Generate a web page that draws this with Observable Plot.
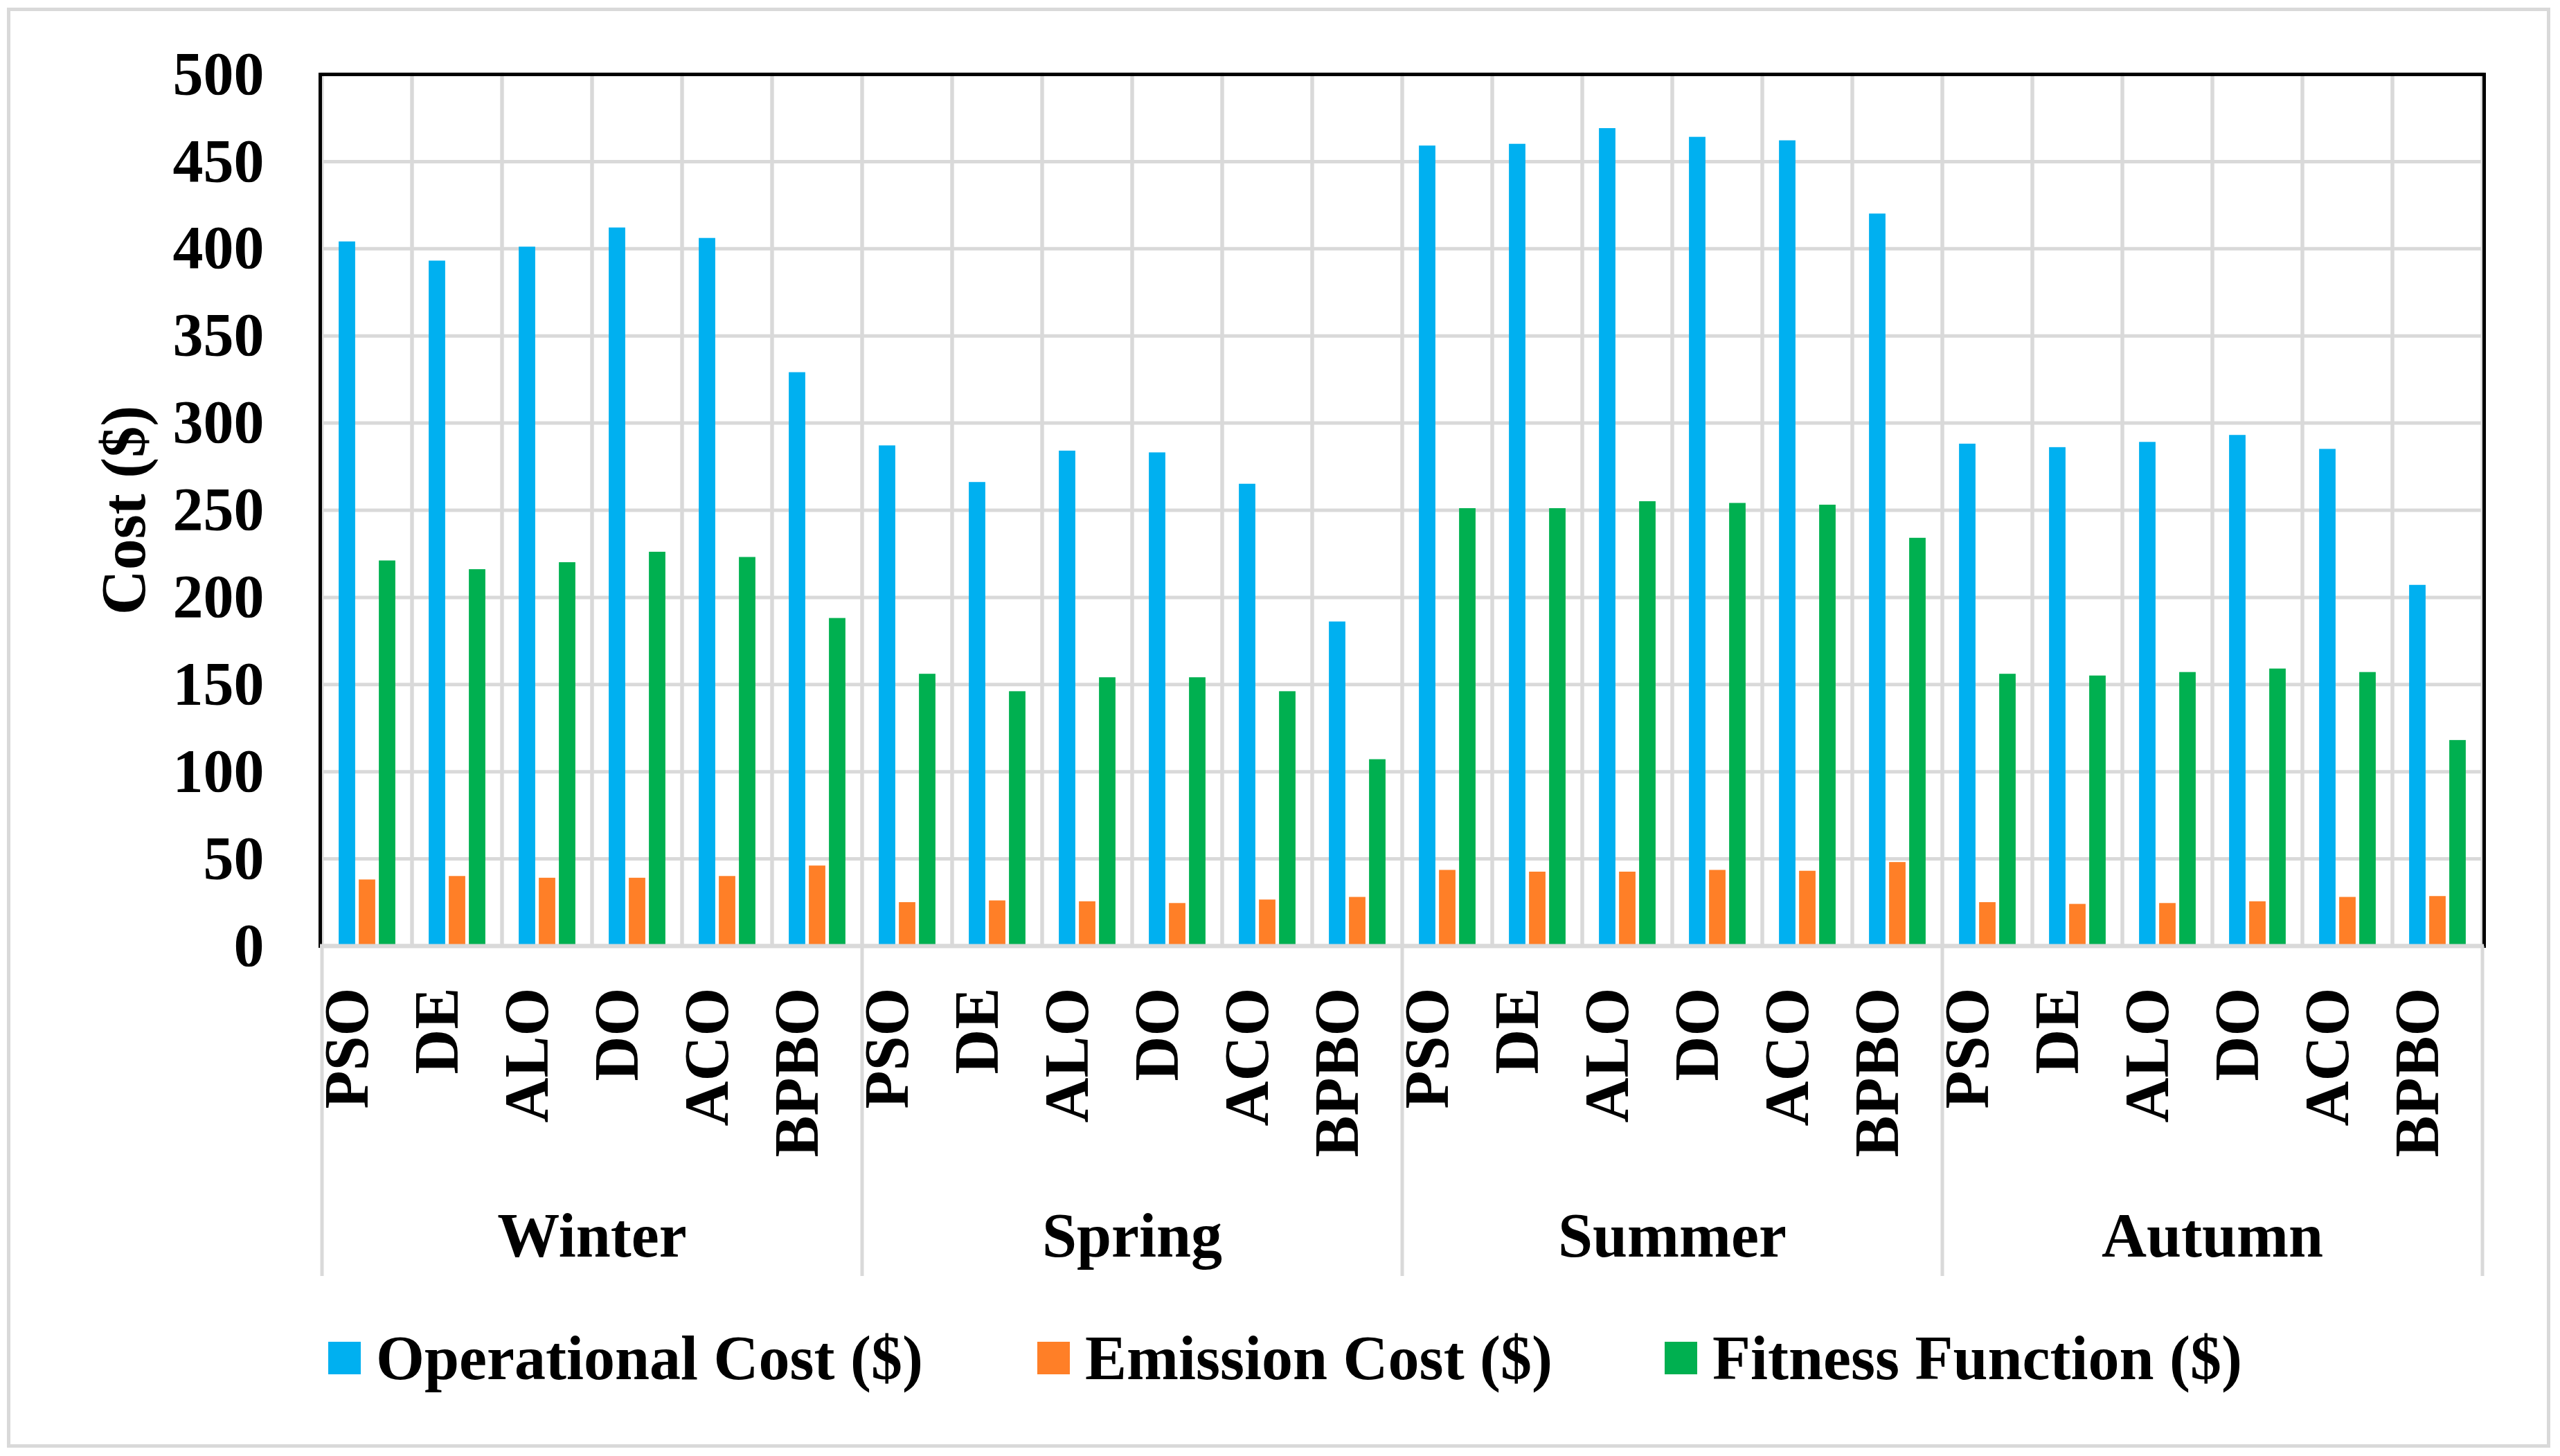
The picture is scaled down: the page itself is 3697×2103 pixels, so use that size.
<!DOCTYPE html>
<html><head><meta charset="utf-8">
<script src="https://cdn.jsdelivr.net/npm/d3@7"></script>
<script src="https://cdn.jsdelivr.net/npm/@observablehq/plot@0.6"></script>
<style>
html,body{margin:0;padding:0;background:#fff;width:3697px;height:2103px;overflow:hidden;}
#border{position:absolute;left:10px;top:11px;width:3673px;height:2080px;border:5px solid #d9d9d9;box-sizing:border-box;z-index:10;pointer-events:none;}
#chart{position:absolute;left:0;top:0;}
#legend{position:absolute;top:1901px;left:0;width:3697px;height:120px;font-family:"Liberation Serif","Times New Roman",serif;font-weight:bold;font-size:90px;color:#000;}
.item{position:absolute;top:0;height:120px;display:flex;align-items:center;white-space:nowrap;}
.sw{width:47px;height:47px;margin-right:22px;flex:none;}
</style></head><body>
<div id="chart"></div>
<div id="legend"></div>
<div id="border"></div>
<script>
const seasons = ["Winter","Spring","Summer","Autumn"];
const methods = ["PSO","DE","ALO","DO","ACO","BPBO"];
const seriesNames = ["Operational Cost ($)","Emission Cost ($)","Fitness Function ($)"];
const colors = ["#00B0F0","#FF7F27","#00B050"];
const yTicks = [0,50,100,150,200,250,300,350,400,450,500];
// values in season order, methods within
const operational = [404,393,401,412,406,329, 287,266,284,283,265,186, 459,460,469,464,462,420, 288,286,289,293,285,207];
const emission    = [38,40,39,39,40,46, 25,26,25.5,24.5,26.5,28, 43.5,42.5,42.5,43.5,43,48, 25,24,24.5,25.5,28,28.5];
const fitness     = [221,216,220,226,223,188, 156,146,154,154,146,107, 251,251,255,254,253,234, 156,155,157,159,157,118];

const rows = [];
seasons.forEach((s,si)=>methods.forEach((m,mi)=>{
  const i = si*methods.length+mi;
  rows.push({key:s+"|"+m, season:s, method:m, op:operational[i], em:emission[i], fit:fitness[i]});
}));
const keys = rows.map(d=>d.key);
const fields = ["op","em","fit"];

const W=3697,H=1880,mL=462,mR=110,mT=107,mB=514;
const bw=(W-mL-mR)/keys.length;
const barW=24, step=29, inset=(bw-barW)/2;
const grid="#d9d9d9";

function seasonAxis(index, scales, values, dim){
  const g = d3.create("svg:g");
  const sx = scales.x;
  const bws = typeof sx.bandwidth==="function" ? sx.bandwidth() : bw;
  const y0 = dim.height - dim.marginBottom;
  const edges = [];
  seasons.forEach((s,si)=>{
    const ks = keys.filter(k=>k.startsWith(s+"|"));
    const x1 = sx(ks[0]), x2 = sx(ks[ks.length-1]) + bws;
    if (si===0) edges.push(x1);
    edges.push(x2);
    g.append("text").attr("x",(x1+x2)/2).attr("y",y0+449).attr("text-anchor","middle")
      .attr("font-size",90).attr("font-weight","bold").attr("fill","black").text(s);
  });
  edges.forEach(x=>g.append("line").attr("x1",x).attr("x2",x).attr("y1",y0).attr("y2",y0+477)
    .attr("stroke",grid).attr("stroke-width",5));
  return g.node();
}

const plot = Plot.plot({
  width:W, height:H, marginLeft:mL, marginRight:mR, marginTop:mT, marginBottom:mB,
  style:{fontFamily:'"Liberation Serif","Times New Roman",serif', fontWeight:"bold", fontSize:"90px", color:"black", background:"white", overflow:"visible"},
  x:{domain:keys, padding:0, axis:null},
  y:{domain:[0,500], axis:null},
  marks:[
    Plot.gridY(yTicks,{stroke:grid, strokeOpacity:1, strokeWidth:5}),
    Plot.barY(keys,{x:d=>d, y1:0, y2:500, fill:"none", stroke:grid, strokeWidth:5}),
    ...fields.map((f,i)=>Plot.barY(rows,{x:"key", y:f, fill:colors[i], dx:(i-1)*step, insetLeft:inset, insetRight:inset})),
    Plot.frame({stroke:"black", strokeWidth:5}),
    Plot.ruleY([0],{stroke:grid, strokeWidth:6}),
    Plot.axisY({ticks:yTicks, tickSize:0, tickPadding:81, fontSize:88, label:null}),
    Plot.text(rows,{x:"key", text:"method", frameAnchor:"bottom", rotate:-90, textAnchor:"end", dy:60, fontSize:90, fill:"black"}),
    Plot.text(["Cost ($)"],{frameAnchor:"left", rotate:-90, textAnchor:"middle", dx:-282, fontSize:90, fill:"black"}),
    seasonAxis
  ]
});
document.getElementById("chart").appendChild(plot);

const legendLefts = [474,1498,2404];
const legend = d3.select("#legend");
seriesNames.forEach((n,i)=>{
  const it = legend.append("div").attr("class","item").style("left",legendLefts[i]+"px");
  it.append("div").attr("class","sw").style("background",colors[i]);
  it.append("span").text(n);
});
</script>
</body></html>
